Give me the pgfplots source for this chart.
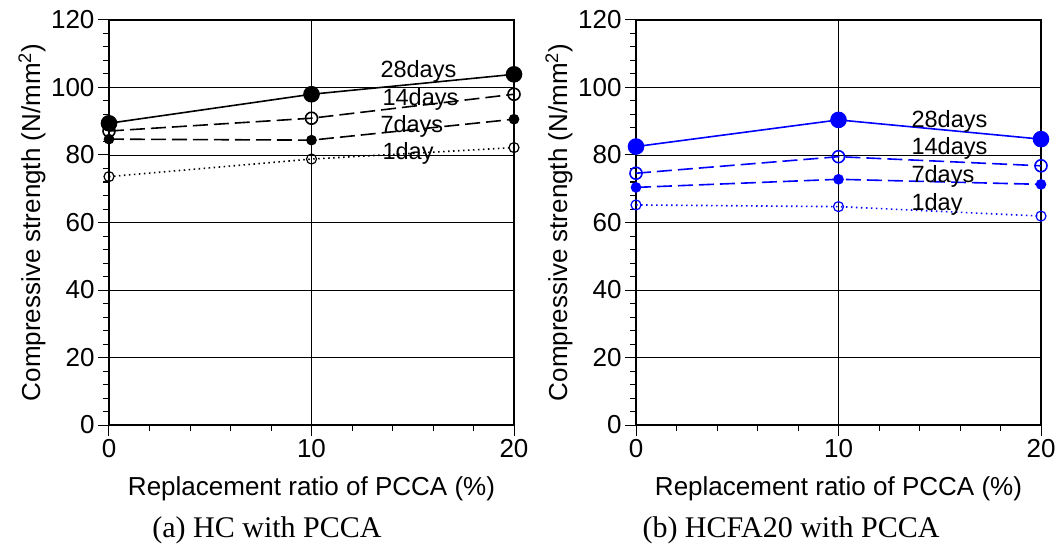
\documentclass[border=0pt]{standalone}
\usepackage{pgfplots}
\pgfplotsset{compat=1.18}
\usepackage{fontspec}
\setmainfont{Liberation Sans}
\newfontfamily\capfont{Liberation Serif}
\pgfplotstableread{
x d28 d14 d7 d1
0 89.4 87.1 84.7 73.6
10 98.0 90.9 84.4 78.8
20 103.9 98.0 90.6 82.2
}\tabA
\pgfplotstableread{
x d28 d14 d7 d1
0 82.5 74.6 70.4 65.2
10 90.4 79.5 72.8 64.7
20 84.7 76.8 71.3 61.9
}\tabB
\tikzset{lbl/.style={anchor=west, font=\fontsize{23.5}{25}\selectfont, inner sep=0pt}}
\begin{document}
\begin{tikzpicture}[x=1pt,y=1pt]
\useasboundingbox (0,0) rectangle (1061,547);
\pgfplotsset{
 panel/.style={
  scale only axis, width=405pt, height=405pt,
  xmin=0,xmax=20,ymin=0,ymax=120,
  xtick={0,10,20}, ytick={0,20,...,120},
  minor x tick num=4, minor y tick num=4,
  tick align=outside, xtick pos=left, ytick pos=left,
  major tick length=11pt, minor tick length=6pt,
  grid=major, major grid style={black, line width=0.8pt},
  axis line style={line width=2pt},
  tick style={black, line width=1pt},
  tick label style={font=\fontsize{26}{28}\selectfont},
  label style={font=\fontsize{26}{28}\selectfont},
  xlabel={Replacement ratio of PCCA (\%)},
  ylabel={Compressive strength (N/mm\textsuperscript{2})},
  xlabel style={at={(axis description cs:0.5,-0.158)},anchor=center},
  ylabel style={at={(axis description cs:-0.19,0.5)},anchor=center},
  /pgf/number format/assume math mode=true,
  clip=false,
 },
}
% Panel (a)
\begin{axis}[panel, at={(109pt,122pt)}, anchor=south west]
\addplot[black, line width=1.6pt, mark=*, mark size=7.5pt] table[x=x,y=d28] {\tabA};
\addplot[black, line width=1.6pt, dash pattern=on 15pt off 6pt, mark=o, mark size=6pt, mark options={solid}] table[x=x,y=d14] {\tabA};
\addplot[black, line width=1.6pt, dash pattern=on 15pt off 6pt, mark=*, mark size=4.5pt, mark options={solid}] table[x=x,y=d7] {\tabA};
\addplot[black, line width=1.6pt, dash pattern=on 1.5pt off 3.5pt, mark=o, mark size=5pt, mark options={solid, line width=1.2pt}] table[x=x,y=d1] {\tabA};
\node[lbl] at (axis cs:13.4,104.9) {28days};
\node[lbl] at (axis cs:13.5,96.6) {14days};
\node[lbl] at (axis cs:13.4,88.6) {7days};
\node[lbl] at (axis cs:13.5,80.6) {1day};
\end{axis}
% Panel (b)
\begin{axis}[panel, at={(636pt,122pt)}, anchor=south west]
\addplot[blue, line width=1.6pt, mark=*, mark size=7.5pt] table[x=x,y=d28] {\tabB};
\addplot[blue, line width=1.6pt, dash pattern=on 15pt off 6pt, mark=o, mark size=6pt, mark options={solid}] table[x=x,y=d14] {\tabB};
\addplot[blue, line width=1.6pt, dash pattern=on 15pt off 6pt, mark=*, mark size=4.5pt, mark options={solid}] table[x=x,y=d7] {\tabB};
\addplot[blue, line width=1.6pt, dash pattern=on 1.5pt off 3.5pt, mark=o, mark size=5pt, mark options={solid, line width=1.2pt}] table[x=x,y=d1] {\tabB};
\node[lbl] at (axis cs:13.6,89.9) {28days};
\node[lbl] at (axis cs:13.6,82.0) {14days};
\node[lbl] at (axis cs:13.6,73.8) {7days};
\node[lbl] at (axis cs:13.6,65.5) {1day};
\end{axis}
\node[font=\capfont\fontsize{30}{32}\selectfont, anchor=center] at (267,17) {(a) HC with PCCA};
\node[font=\capfont\fontsize{30}{32}\selectfont, anchor=center] at (791,17) {(b) HCFA20 with PCCA};
\end{tikzpicture}
\end{document}
